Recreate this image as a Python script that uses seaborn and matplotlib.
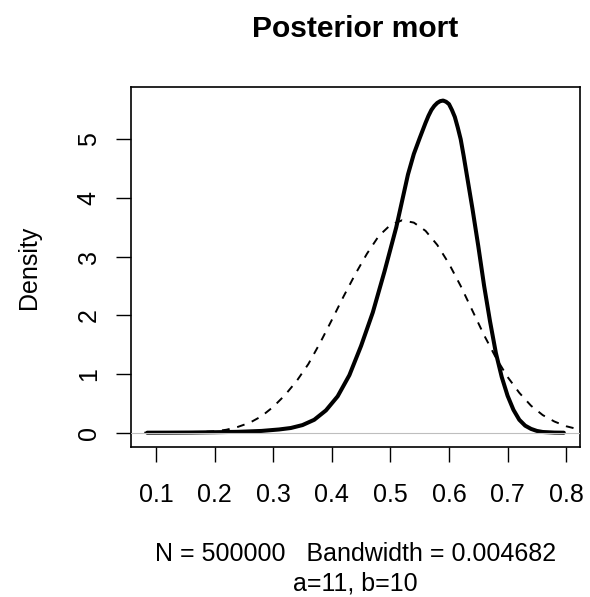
import matplotlib
matplotlib.use("Agg")
import matplotlib.pyplot as plt
import seaborn as sns
import pandas as pd

# ---- data ----
post_x = [0.085, 0.12, 0.16, 0.20, 0.24, 0.28, 0.31, 0.33, 0.35, 0.37, 0.39,
          0.41, 0.43, 0.45, 0.47, 0.49, 0.51, 0.52, 0.53, 0.54, 0.55, 0.56,
          0.565, 0.57, 0.575, 0.58, 0.585, 0.59, 0.595, 0.60, 0.605, 0.61,
          0.615, 0.62, 0.625, 0.63, 0.635, 0.64, 0.65, 0.66, 0.67, 0.68, 0.69,
          0.70, 0.71, 0.72, 0.73, 0.74, 0.75, 0.76, 0.78, 0.796]
post_y = [0.0, 0.001, 0.003, 0.008, 0.015, 0.03, 0.055, 0.08, 0.13, 0.22, 0.38,
          0.62, 0.98, 1.48, 2.05, 2.75, 3.50, 3.95, 4.40, 4.75, 5.02, 5.28,
          5.40, 5.50, 5.57, 5.62, 5.65, 5.66, 5.64, 5.60, 5.50, 5.38,
          5.20, 5.00, 4.72, 4.42, 4.12, 3.82, 3.18, 2.50, 1.90, 1.36, 0.95,
          0.63, 0.39, 0.22, 0.12, 0.065, 0.03, 0.012, 0.002, 0.0]

prior_x = [0.08, 0.12, 0.16, 0.20, 0.22, 0.24, 0.26, 0.28, 0.30, 0.32, 0.34,
           0.36, 0.38, 0.40, 0.42, 0.44, 0.46, 0.48, 0.50, 0.52, 0.54, 0.56,
           0.58, 0.60, 0.62, 0.64, 0.66, 0.68, 0.70, 0.72, 0.74, 0.76, 0.78,
           0.80, 0.824]
prior_y = [0.0, 0.0002, 0.004, 0.024, 0.05, 0.10, 0.17, 0.28, 0.44, 0.64, 0.88,
           1.17, 1.53, 1.92, 2.32, 2.70, 3.05, 3.35, 3.54, 3.62, 3.58, 3.44,
           3.20, 2.88, 2.50, 2.08, 1.66, 1.28, 0.95, 0.68, 0.46, 0.30, 0.19,
           0.11, 0.05]

x_ticks = [0.1, 0.2, 0.3, 0.4, 0.5, 0.6, 0.7, 0.8]
x_tick_labels = ["0.1", "0.2", "0.3", "0.4", "0.5", "0.6", "0.7", "0.8"]
y_ticks = [0, 1, 2, 3, 4, 5]
y_tick_labels = ["0", "1", "2", "3", "4", "5"]

title = "Posterior mort"
xlabel = "N = 500000   Bandwidth = 0.004682"
sublabel = "a=11, b=10"
ylabel = "Density"

post_df = pd.DataFrame({"x": post_x, "density": post_y})
prior_df = pd.DataFrame({"x": prior_x, "density": prior_y})

# ---- style ----
sns.set_style("white")
plt.rcParams["font.family"] = ["Liberation Sans", "DejaVu Sans"]
plt.rcParams["text.color"] = "black"
plt.rcParams["axes.labelcolor"] = "black"
plt.rcParams["xtick.color"] = "black"
plt.rcParams["ytick.color"] = "black"

W, H = 590, 597
fig = plt.figure(figsize=(W / 100, H / 100), dpi=100)
left, right, top, bottom = 130.7, 580.0, 87.3, 446.7
ax = fig.add_axes([left / W, 1 - bottom / H, (right - left) / W, (bottom - top) / H])

sns.lineplot(data=post_df, x="x", y="density", ax=ax, color="black",
             linewidth=2.9, sort=True, zorder=3)
sns.lineplot(data=prior_df, x="x", y="density", ax=ax, color="black",
             linewidth=1.4, linestyle=(0, (4, 4)), sort=True, zorder=2)
ax.axhline(0, color="#BEBEBE", linewidth=0.8, zorder=4)

ax.set_xlim(0.0568, 0.8236)
ax.set_ylim(-0.2386, 5.886)

ax.set_xticks(x_ticks)
ax.set_xticklabels(x_tick_labels, fontsize=18, color="black")
ax.set_yticks(y_ticks)
ax.set_yticklabels(y_tick_labels, fontsize=18, rotation=90, va="center",
                   color="black")

ax.tick_params(axis="x", direction="out", length=10.5, width=1.0,
               color="black", pad=15.5, bottom=True)
ax.tick_params(axis="y", direction="out", length=10.5, width=1.0,
               color="black", pad=11, left=True)

for s in ax.spines.values():
    s.set_visible(True)
    s.set_color("black")
    s.set_linewidth(1.2)

ax.set_xlabel(xlabel, fontsize=18, color="black")
ax.xaxis.set_label_coords(0.5, -(560.7 - bottom) / (bottom - top))
ax.xaxis.label.set_va("baseline")

ax.set_ylabel(ylabel, fontsize=18, color="black")
ax.yaxis.set_label_coords(-(left - 29) / (right - left), 0.5)
ax.yaxis.label.set_va("center")

ax.text(0.5, -(590.5 - bottom) / (bottom - top), sublabel, fontsize=18,
        ha="center", va="baseline", color="black", transform=ax.transAxes)

ax.set_title(title, fontsize=21.6, fontweight="bold", pad=0, color="black",
             y=1 + (top - 37.3) / (bottom - top), va="baseline")

fig.savefig("out.png", dpi=100)
